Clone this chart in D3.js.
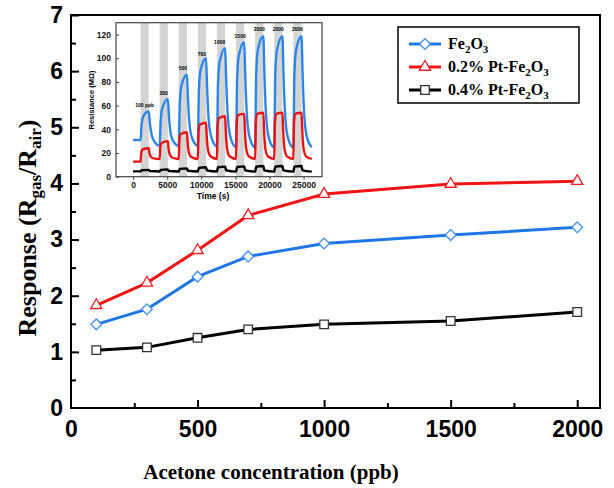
<!DOCTYPE html>
<html>
<head>
<meta charset="utf-8">
<script src="https://cdn.jsdelivr.net/npm/d3@7"></script>
<style>
body { margin: 0; background: #fff; }
</style>
</head>
<body>
<svg id="chart"></svg>
<script>
// main chart data
var concentration = [100, 300, 500, 700, 1000, 1500, 2000];
var responseFe2O3 = [1.49, 1.76, 2.34, 2.70, 2.93, 3.08, 3.22];
var responsePt02 = [1.83, 2.23, 2.81, 3.43, 3.81, 3.99, 4.04];
var responsePt04 = [1.03, 1.08, 1.25, 1.40, 1.49, 1.55, 1.71];
var seriesNames = ["Fe2O3", "0.2% Pt-Fe2O3", "0.4% Pt-Fe2O3"];
var xTicks = [0, 500, 1000, 1500, 2000];
var xMinor = [250, 750, 1250, 1750];
var yTicks = [0, 1, 2, 3, 4, 5, 6, 7];
var yMinor = [0.5, 1.5, 2.5, 3.5, 4.5, 5.5, 6.5];

// inset data (resistance vs time)
var gasOn = [1100, 3900, 6700, 9500, 12300, 15100, 17900, 20700, 23500];
var gasOff = [2300, 5100, 7900, 10700, 13500, 16300, 19100, 21900, 24700];
var peakLabels = ["100 ppb", "300", "500", "700", "1000", "1500", "2000", "2000", "2000"];
var peakLabelTime = [1700, 4500, 7300, 10100, 12700, 15700, 18500, 21300, 24100];
var peakLabelValue = [59, 69, 90, 102, 112, 117, 123, 123, 123];
var insetXTicks = [0, 5000, 10000, 15000, 20000, 25000];
var insetYTicks = [0, 20, 40, 60, 80, 100, 120];

var resistFe2O3 = [
  [0,31],[1100,31],[1250,44],[1500,51],[2300,55],[2450,46],[2700,36],[3100,30],
  [3900,26],[4050,47],[4300,58],[5100,65.5],[5250,52],[5500,37],[5900,30],
  [6700,26],[6850,62],[7100,77],[7900,86],[8050,66],[8300,43],[8700,32],
  [9500,26],[9650,72],[9900,90],[10700,100],[10850,76],[11100,47],[11500,33],
  [12300,25.5],[12450,78],[12700,97],[13500,108.5],[13650,82],[13900,50],[14300,33],
  [15100,25],[15250,82],[15500,102],[16300,113.5],[16450,85],[16700,51],[17100,33],
  [17900,24.5],[18050,86],[18300,107],[19100,118.5],[19250,88],[19500,52],[19900,33],
  [20700,24.5],[20850,86],[21100,107],[21900,118.5],[22050,88],[22300,52],[22700,33],
  [23500,24.5],[23650,86],[23900,107],[24700,118.5],[24850,88],[25100,52],[25500,33],
  [26200,25]
];
var resistPt02 = [
  [0,12.7],[1100,12.7],[1200,20],[1400,23],[2300,24],[2400,20],[2600,17],[3000,15.5],
  [3900,15],[4000,25],[4200,28.5],[5100,30],[5200,24],[5400,18.5],[5800,16],
  [6700,15],[6800,31],[7000,36],[7900,37.5],[8000,29],[8200,20],[8600,16.5],
  [9500,15],[9600,38],[9800,44],[10700,45.5],[10800,34],[11000,22],[11400,17],
  [12300,15],[12400,43],[12600,49.5],[13500,51],[13600,38],[13800,23],[14200,17],
  [15100,15],[15200,45],[15400,52],[16300,53],[16400,39],[16600,23],[17000,17],
  [17900,15],[18000,46],[18200,53],[19100,54],[19200,40],[19400,23.5],[19800,17],
  [20700,15],[20800,46],[21000,53],[21900,54],[22000,40],[22200,23.5],[22600,17],
  [23500,15],[23600,46],[23800,53],[24700,54],[24800,40],[25000,23.5],[25400,17],
  [26200,15]
];
var resistPt04 = [
  [0,4.5],[1100,4.5],[1250,5.5],[2300,5.8],[2450,4.8],[3900,4.4],
  [4050,5.8],[5100,6.2],[5250,4.8],[6700,4.4],
  [6850,6.6],[7900,7],[8050,5],[9500,4.4],
  [9650,7.5],[10700,8],[10850,5.2],[12300,4.4],
  [12450,8],[13500,8.5],[13650,5.3],[15100,4.3],
  [15250,8.2],[16300,8.7],[16450,5.3],[17900,4.3],
  [18050,8.5],[19100,9],[19250,5.3],[20700,4.3],
  [20850,8.5],[21900,9],[22050,5.3],[23500,4.3],
  [23650,8.5],[24700,9],[24850,5.3],[26200,4.3]
];

var svgWidth = 614, svgHeight = 488;
var blue = "#1f77e6", red = "#f01414", black = "#000";
var numFont = "'Liberation Sans', Arial, sans-serif";
var serifFont = "'Liberation Serif', 'Times New Roman', serif";
var intFormat = d3.format("d");

var svg = d3.select("#chart")
    .attr("width", svgWidth)
    .attr("height", svgHeight);

var x = d3.scaleLinear().domain([0, 2090]).range([71, 600]);
var y = d3.scaleLinear().domain([0, 7]).range([408, 15]);

// axes (ticks inward)
var xAxis = svg.append("g")
    .attr("transform", "translate(0,408)")
    .call(d3.axisBottom(x).tickValues(xTicks).tickSize(-8).tickPadding(13).tickFormat(intFormat));
var xAxisMinor = svg.append("g")
    .attr("transform", "translate(0,408)")
    .call(d3.axisBottom(x).tickValues(xMinor).tickSize(-5).tickFormat(""));
var yAxis = svg.append("g")
    .attr("transform", "translate(71,0)")
    .call(d3.axisLeft(y).tickValues(yTicks).tickSize(-8).tickPadding(8).tickFormat(intFormat));
var yAxisMinor = svg.append("g")
    .attr("transform", "translate(71,0)")
    .call(d3.axisLeft(y).tickValues(yMinor).tickSize(-5).tickFormat(""));

[xAxis, xAxisMinor, yAxis, yAxisMinor].forEach(function(g) {
  g.select(".domain").remove();
  g.selectAll("line").attr("stroke", "#000").attr("stroke-width", 2);
  g.selectAll("text")
    .attr("fill", "#000")
    .style("font-family", numFont)
    .style("font-weight", "bold")
    .style("font-size", "23px");
});
yAxis.selectAll(".tick").filter(function(d) { return d === 0; }).select("line").remove();
xAxis.selectAll(".tick").filter(function(d) { return d === 0; }).select("line").remove();

svg.append("rect")
    .attr("x", 71).attr("y", 15)
    .attr("width", 600 - 71).attr("height", 408 - 15)
    .attr("fill", "none")
    .attr("stroke", "#000")
    .attr("stroke-width", 2);

// axis titles
svg.append("text")
    .attr("x", 271).attr("y", 479)
    .attr("text-anchor", "middle")
    .style("font-family", serifFont)
    .style("font-weight", "bold")
    .style("font-size", "21px")
    .text("Acetone concentration (ppb)");

var yTitle = svg.append("text")
    .attr("text-anchor", "middle")
    .attr("transform", "translate(36,228)rotate(-90)")
    .style("font-family", serifFont)
    .style("font-weight", "bold")
    .style("font-size", "26px");
yTitle.append("tspan").text("Response (R");
yTitle.append("tspan").attr("dy", 5).style("font-size", "17px").text("gas");
yTitle.append("tspan").attr("dy", -5).text("/R");
yTitle.append("tspan").attr("dy", 5).style("font-size", "17px").text("air");
yTitle.append("tspan").attr("dy", -5).text(")");

// main series
var series = [
  { name: seriesNames[0], values: responseFe2O3, color: blue, mark: "#3d8ff0", symbol: d3.symbolSquare, size: 58, rotate: 45 },
  { name: seriesNames[1], values: responsePt02, color: red, mark: "#ee2020", symbol: d3.symbolTriangle, size: 55, rotate: 0 },
  { name: seriesNames[2], values: responsePt04, color: black, mark: "#333", symbol: d3.symbolSquare, size: 74, rotate: 0 }
];

var line = d3.line()
    .x(function(d) { return x(d[0]); })
    .y(function(d) { return y(d[1]); });

series.forEach(function(s) {
  var pts = concentration.map(function(c, i) { return [c, s.values[i]]; });
  svg.append("path")
      .datum(pts)
      .attr("d", line)
      .attr("fill", "none")
      .attr("stroke", s.color)
      .attr("stroke-width", 3);
  svg.selectAll(null)
      .data(pts)
      .enter()
      .append("path")
      .attr("d", d3.symbol().type(s.symbol).size(s.size))
      .attr("transform", function(d) { return "translate(" + x(d[0]) + "," + y(d[1]) + ")rotate(" + s.rotate + ")"; })
      .attr("fill", "#fff")
      .attr("stroke", s.mark)
      .attr("stroke-width", 1.3);
});

// legend
function subText(sel, name, size, shift) {
  var parts = name.split(/(?<=[A-Za-z])(\d+)/);
  parts.forEach(function(p, i) {
    if (p === "") return;
    if (i % 2 === 1) {
      sel.append("tspan").attr("dy", shift).style("font-size", size + "px").text(p);
    } else {
      sel.append("tspan").attr("dy", i > 0 ? -shift : 0).text(p);
    }
  });
}

svg.append("rect")
    .attr("x", 398).attr("y", 27)
    .attr("width", 181).attr("height", 76)
    .attr("fill", "#fff")
    .attr("stroke", "#000")
    .attr("stroke-width", 1.5);

series.forEach(function(s, i) {
  var ly = 44 + i * 23;
  svg.append("line")
      .attr("x1", 409).attr("x2", 441)
      .attr("y1", ly).attr("y2", ly)
      .attr("stroke", s.color)
      .attr("stroke-width", 3);
  svg.append("path")
      .attr("d", d3.symbol().type(s.symbol).size(s.size)())
      .attr("transform", "translate(425," + ly + ")rotate(" + s.rotate + ")")
      .attr("fill", "#fff")
      .attr("stroke", s.mark)
      .attr("stroke-width", 1.3);
  var t = svg.append("text")
      .attr("x", 448).attr("y", ly + 5)
      .style("font-family", serifFont)
      .style("font-weight", "bold")
      .style("font-size", "16px");
  subText(t, s.name, 11, 4);
});

// inset
var xi = d3.scaleLinear().domain([-2500, 27700]).range([116, 322]);
var yi = d3.scaleLinear().domain([0, 130]).range([176.7, 22.7]);
var inset = svg.append("g");

inset.selectAll(".gas")
    .data(gasOn)
    .enter()
    .append("rect")
    .attr("x", function(d) { return xi(d); })
    .attr("width", function(d, i) { return xi(gasOff[i]) - xi(d); })
    .attr("y", yi(130))
    .attr("height", yi(0) - yi(130))
    .attr("fill", "#d4d4d4");

var iline = d3.line()
    .x(function(d) { return xi(d[0]); })
    .y(function(d) { return yi(d[1]); })
    .curve(d3.curveMonotoneX);

[[resistFe2O3, "#2b86ea"], [resistPt02, "#ee1111"], [resistPt04, "#000"]].forEach(function(r) {
  inset.append("path")
      .datum(r[0])
      .attr("d", iline)
      .attr("fill", "none")
      .attr("stroke", r[1])
      .attr("stroke-width", 2.4);
});

inset.selectAll(".plabel")
    .data(peakLabels)
    .enter()
    .append("text")
    .attr("x", function(d, i) { return xi(peakLabelTime[i]); })
    .attr("y", function(d, i) { return yi(peakLabelValue[i]); })
    .attr("text-anchor", "middle")
    .style("font-family", numFont)
    .style("font-weight", "bold")
    .style("font-size", "5px")
    .text(function(d) { return d; });

var ixAxis = inset.append("g")
    .attr("transform", "translate(0,176.7)")
    .call(d3.axisBottom(xi).tickValues(insetXTicks).tickSize(3).tickPadding(2).tickFormat(intFormat));
var iyAxis = inset.append("g")
    .attr("transform", "translate(116,0)")
    .call(d3.axisLeft(yi).tickValues(insetYTicks).tickSize(-3).tickPadding(5).tickFormat(intFormat));
[ixAxis, iyAxis].forEach(function(g) {
  g.select(".domain").remove();
  g.selectAll("line").attr("stroke", "#444").attr("stroke-width", 1);
  g.selectAll("text")
    .attr("fill", "#111")
    .style("font-family", numFont)
    .style("font-weight", "bold")
    .style("font-size", "8.5px");
});

inset.append("rect")
    .attr("x", 116).attr("y", 22.7)
    .attr("width", 322 - 116).attr("height", 176.7 - 22.7)
    .attr("fill", "none")
    .attr("stroke", "#444")
    .attr("stroke-width", 1.2);

inset.append("text")
    .attr("x", 213).attr("y", 199)
    .attr("text-anchor", "middle")
    .style("font-family", numFont)
    .style("font-weight", "bold")
    .style("font-size", "8.5px")
    .text("Time (s)");

inset.append("text")
    .attr("text-anchor", "middle")
    .attr("transform", "translate(94,100)rotate(-90)")
    .style("font-family", numFont)
    .style("font-weight", "bold")
    .style("font-size", "7.5px")
    .text("Resistance (MΩ)");
</script>
</body>
</html>
